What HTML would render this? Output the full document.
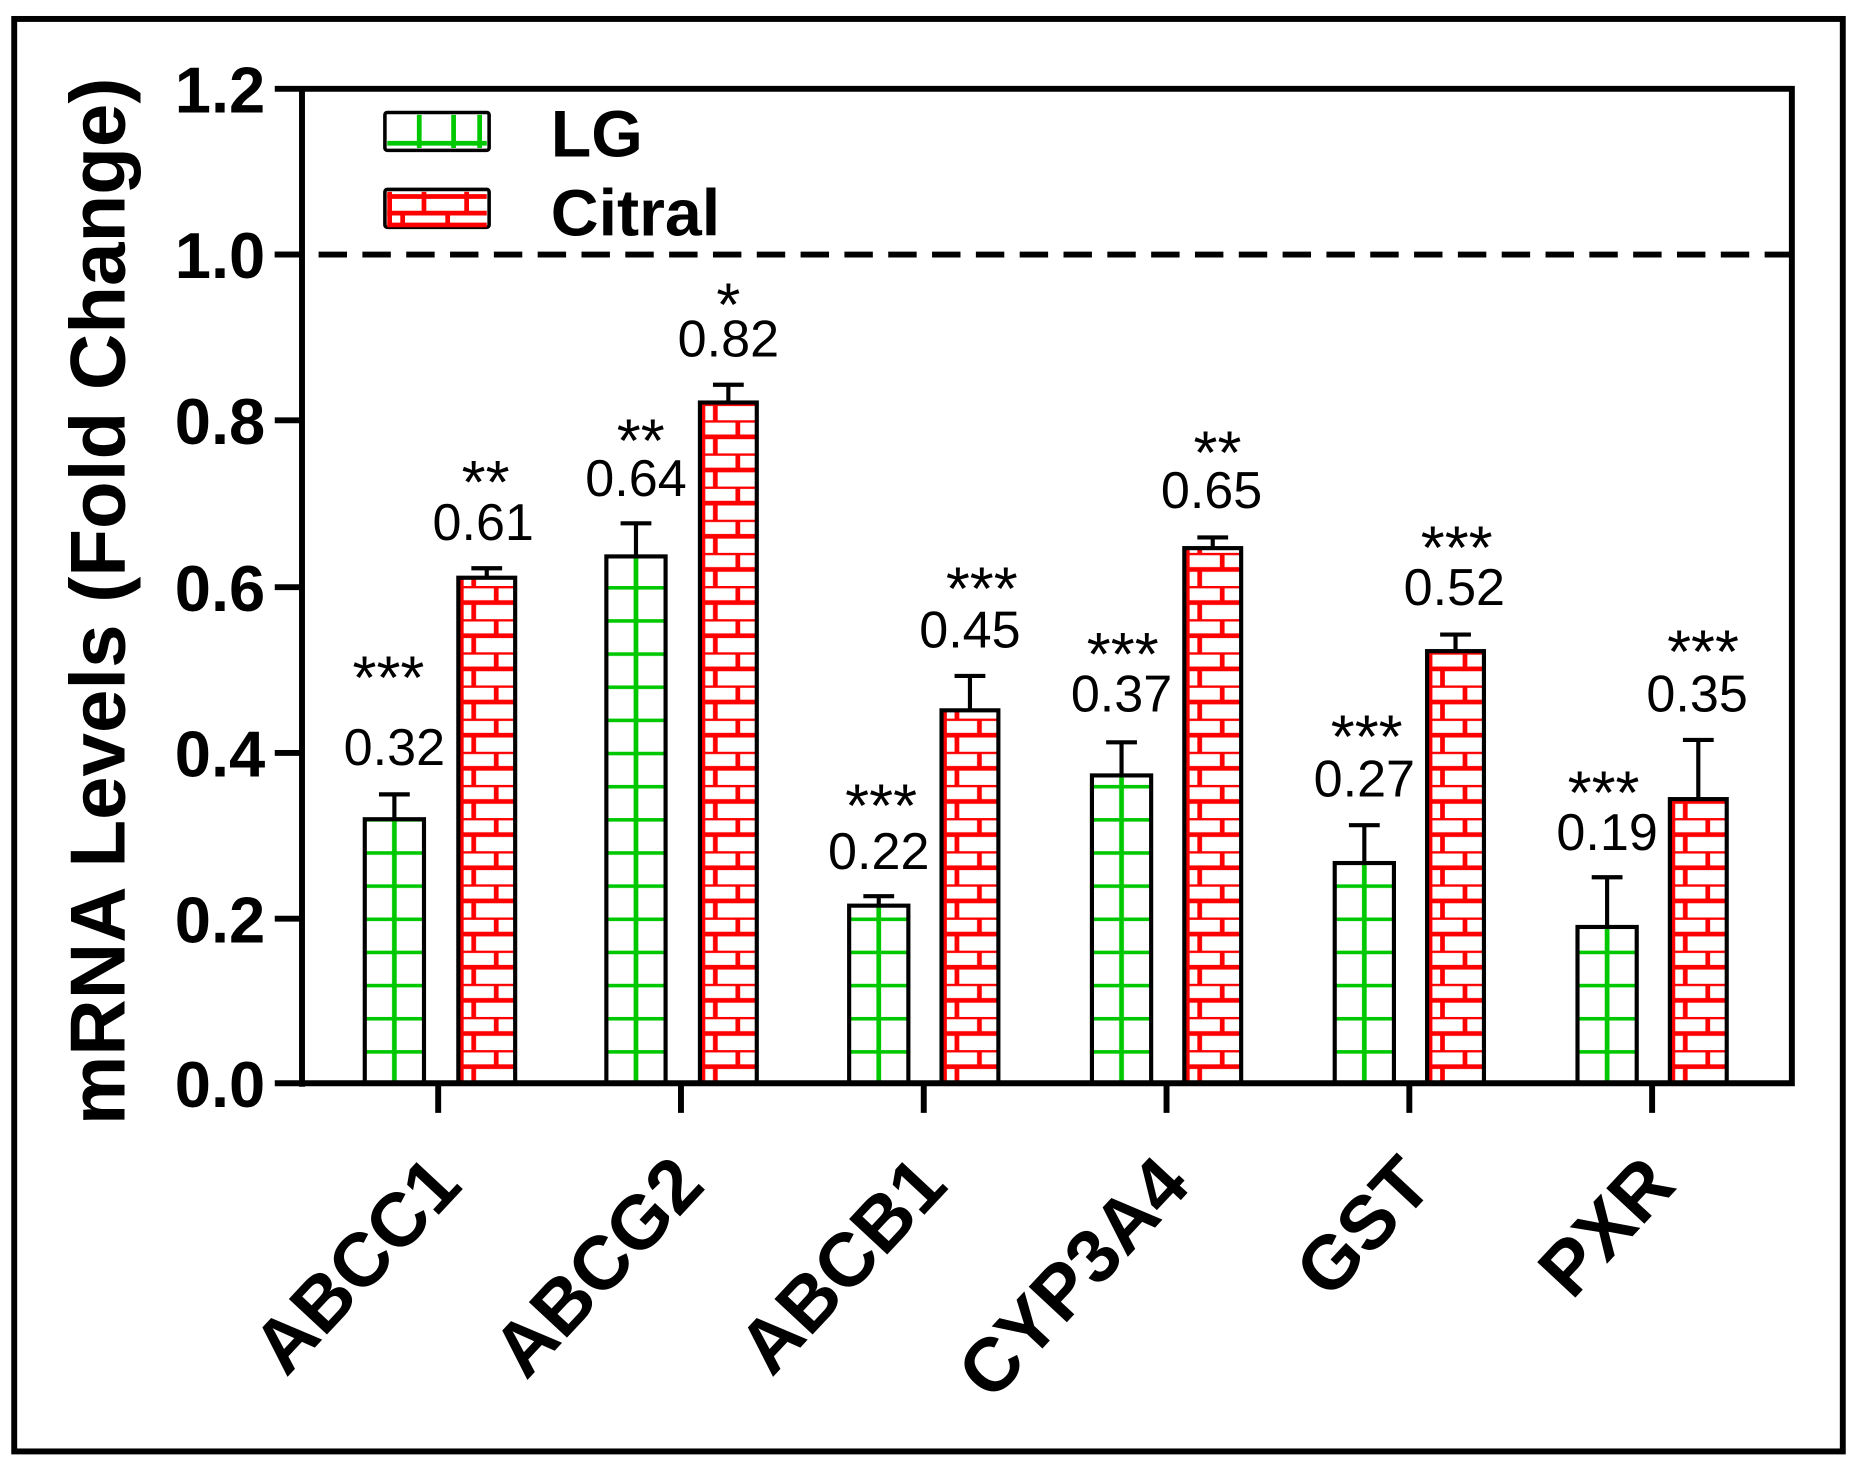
<!DOCTYPE html>
<html><head><meta charset="utf-8"><style>html,body{margin:0;padding:0;background:#fff}svg{display:block}</style></head>
<body>
<svg width="1857" height="1468" viewBox="0 0 1568 1240" preserveAspectRatio="none" xmlns="http://www.w3.org/2000/svg" font-family="Liberation Sans, Arial, sans-serif">
<defs>
<pattern id="g" patternUnits="userSpaceOnUse" width="50" height="28" x="0" y="915">
<line x1="25" y1="0" x2="25" y2="28" stroke="#00c800" stroke-width="4"/>
<line x1="0" y1="0" x2="50" y2="0" stroke="#00c800" stroke-width="6"/>
</pattern>
<pattern id="r" patternUnits="userSpaceOnUse" width="49" height="28" x="0" y="915">
<line x1="0" y1="0" x2="49" y2="0" stroke="#f00" stroke-width="4"/>
<line x1="0" y1="14" x2="49" y2="14" stroke="#f00" stroke-width="4"/>
<line x1="32" y1="0" x2="32" y2="14" stroke="#f00" stroke-width="4"/>
<line x1="13" y1="14" x2="13" y2="28" stroke="#f00" stroke-width="4"/>
<line x1="2" y1="0" x2="2" y2="28" stroke="#f00" stroke-width="5"/>
</pattern>
<pattern id="g0" href="#g" x="308"/><pattern id="g1" href="#g" x="512"/><pattern id="g2" href="#g" x="717"/>
<pattern id="g3" href="#g" x="922"/><pattern id="g4" href="#g" x="1127"/><pattern id="g5" href="#g" x="1332"/>
<pattern id="r0" href="#r" x="387"/><pattern id="r1" href="#r" x="591"/><pattern id="r2" href="#r" x="795"/>
<pattern id="r3" href="#r" x="1000"/><pattern id="r4" href="#r" x="1205"/><pattern id="r5" href="#r" x="1410"/>
</defs>
<rect x="12" y="16" width="1544" height="1210" fill="none" stroke="#000" stroke-width="5"/>

<g stroke="#000" stroke-width="3.5">
<rect x="308" y="692" width="50" height="223" fill="url(#g0)"/>
<rect x="387" y="488" width="48" height="427" fill="url(#r0)"/>
<rect x="512" y="470" width="50" height="445" fill="url(#g1)"/>
<rect x="591" y="340" width="48" height="575" fill="url(#r1)"/>
<rect x="717" y="765" width="50" height="150" fill="url(#g2)"/>
<rect x="795" y="600" width="48" height="315" fill="url(#r2)"/>
<rect x="922" y="655" width="50" height="260" fill="url(#g3)"/>
<rect x="1000" y="463" width="48" height="452" fill="url(#r3)"/>
<rect x="1127" y="729" width="50" height="186" fill="url(#g4)"/>
<rect x="1205" y="550" width="48" height="365" fill="url(#r4)"/>
<rect x="1332" y="783" width="50" height="132" fill="url(#g5)"/>
<rect x="1410" y="675" width="48" height="240" fill="url(#r5)"/>
</g>
<g stroke="#000" stroke-width="3.5" fill="none">
<path d="M333 692V671M320 671H346"/>
<path d="M411 488V480M398 480H424"/>
<path d="M537 470V442M524 442H550"/>
<path d="M615 340V325M602 325H628"/>
<path d="M742 765V757M729 757H755"/>
<path d="M819 600V571M806 571H832"/>
<path d="M947 655V627M934 627H960"/>
<path d="M1024 463V454M1011 454H1037"/>
<path d="M1152 729V697M1139 697H1165"/>
<path d="M1229 550V536M1216 536H1242"/>
<path d="M1357 783V741M1344 741H1370"/>
<path d="M1434 675V625M1421 625H1447"/>
</g>

<g stroke="#000" stroke-width="5" fill="none">
<path d="M255 75H1513V915H232"/>
<path d="M255 73V918"/>
<path d="M232 75H255M232 215H255M232 355H255M232 496H255M232 636H255M232 776H255"/>
<path d="M370 915V940M575 915V940M780 915V940M985 915V940M1190 915V940M1395 915V940"/>
</g>
<line x1="232" y1="215" x2="1513" y2="215" stroke="#000" stroke-width="5" stroke-dasharray="24,13"/>

<g font-size="55" font-weight="bold" text-anchor="end">
<text x="224" y="95">1.2</text><text x="224" y="235">1.0</text><text x="224" y="375">0.8</text>
<text x="224" y="516">0.6</text><text x="224" y="656">0.4</text><text x="224" y="796">0.2</text><text x="224" y="935">0.0</text>
</g>
<text transform="translate(105,508) rotate(-90)" text-anchor="middle" font-size="66" font-weight="bold">mRNA Levels (Fold Change)</text>

<rect x="325" y="95" width="88" height="32" rx="2" fill="#fff" stroke="#000" stroke-width="3"/>
<g stroke="#00c800" stroke-width="4"><line x1="354" y1="97" x2="354" y2="125"/><line x1="383" y1="97" x2="383" y2="125"/><line x1="405" y1="97" x2="405" y2="125"/><line x1="327" y1="121" x2="411" y2="121"/></g>
<rect x="325" y="160" width="88" height="32" rx="2" fill="#fff" stroke="#000" stroke-width="3"/>
<g stroke="#f00" stroke-width="4"><line x1="327" y1="166" x2="411" y2="166"/><line x1="327" y1="180" x2="411" y2="180"/><line x1="327" y1="190" x2="411" y2="190"/>
<line x1="358" y1="162" x2="358" y2="180"/><line x1="394" y1="162" x2="394" y2="180"/><line x1="340" y1="180" x2="340" y2="190"/><line x1="378" y1="180" x2="378" y2="190"/><line x1="329" y1="162" x2="329" y2="190"/></g>
<text x="465" y="132" font-size="56" font-weight="bold">LG</text>
<text x="465" y="199" font-size="56" font-weight="bold">Citral</text>

<g font-size="44" text-anchor="middle">
<text x="333" y="646">0.32</text><text x="408" y="456">0.61</text>
<text x="537" y="419">0.64</text><text x="615" y="301">0.82</text>
<text x="742" y="734">0.22</text><text x="819" y="547">0.45</text>
<text x="947" y="601">0.37</text><text x="1023" y="429">0.65</text>
<text x="1152" y="673">0.27</text><text x="1228" y="511">0.52</text>
<text x="1357" y="718">0.19</text><text x="1433" y="601">0.35</text>
</g>
<g font-size="52" text-anchor="middle">
<text x="328" y="590">***</text><text x="410" y="425">**</text>
<text x="541" y="390">**</text><text x="615" y="275">*</text>
<text x="744" y="698">***</text><text x="829" y="515">***</text>
<text x="948" y="570">***</text><text x="1028" y="400">**</text>
<text x="1154" y="640">***</text><text x="1230" y="480">***</text>
<text x="1354" y="687">***</text><text x="1438" y="568">***</text>
</g>

<g font-size="64" font-weight="bold" text-anchor="end">
<text transform="translate(392,1003) rotate(-47)">ABCC1</text>
<text transform="translate(597,1003) rotate(-47)">ABCG2</text>
<text transform="translate(802,1003) rotate(-47)">ABCB1</text>
<text transform="translate(1007,1003) rotate(-47)">CYP3A4</text>
<text transform="translate(1212,1003) rotate(-47)">GST</text>
<text transform="translate(1417,1003) rotate(-47)">PXR</text>
</g>
</svg>
</body></html>
